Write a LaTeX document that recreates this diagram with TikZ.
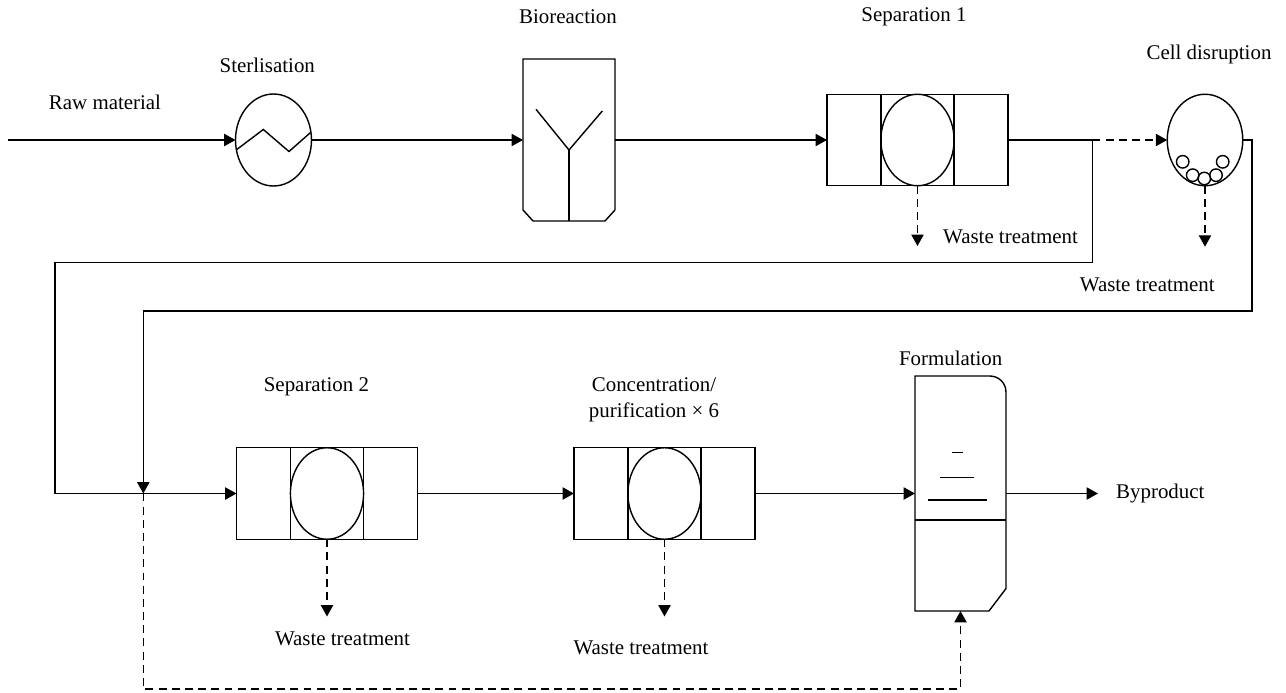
\documentclass[tikz,border=0pt]{standalone}
\usepackage{fontspec}
\setmainfont{Liberation Serif}
\usetikzlibrary{
  arrows.meta,
  calc,
  shapes.geometric,
}
\tikzstyle{line} = [line width=0.8pt]
\tikzstyle{flow} = [
  -{Triangle[length=6.5pt,width=7pt]},
  line width=0.8pt,
]
\tikzstyle{waste} = [
  flow,
  dash pattern=on 4.5pt off 3pt,
]
\tikzstyle{lbl} = [font=\fontsize{11.9}{14.5}\selectfont]
\tikzstyle{separator} = [draw,rectangle,line width=0.8pt,minimum width=3.62cm,minimum height=1.83cm,inner sep=0,outer sep=0]
\tikzstyle{vessel} = [draw,ellipse,line width=0.8pt,minimum width=1.52cm,minimum height=1.84cm,inner sep=0,outer sep=0]
\tikzstyle{tank} = [rectangle,inner sep=0,outer sep=0]

\begin{document}
\begin{tikzpicture}[x=0.02cm,y=0.02cm]
        \useasboundingbox (0,0) rectangle (1286,-693);

        % units
        \node[vessel] (steril) at (273.5,-140) {};
        \node[tank,minimum width=1.84cm,minimum height=3.24cm] (bio) at (569,-140) {};
        \node[separator] (sepA) at (917.5,-140) {};
        \node[vessel,minimum width=1.51cm,minimum height=1.83cm] (cell) at (1205,-140) {};
        \node[separator] (sepB) at (327,-493.5) {};
        \node[separator] (conc) at (664.5,-493.5) {};
        \node[tank,minimum width=1.82cm,minimum height=4.7cm] (form) at (960.5,-493.5) {};

        % insides
        \draw[line] ($(steril)+(-37.1,-9.8)$) -- ($(steril)+(-10.2,10.5)$) -- ($(steril)+(15.5,-11.5)$) -- ($(steril)+(37.4,7.8)$);

        \draw[line] (bio.north west) -- (bio.north east) -- ($(bio.south east)+(0,11)$) -- ($(bio.south east)+(-10,0)$) -- ($(bio.south west)+(10,0)$) -- ($(bio.south west)+(0,11)$) -- cycle;
        \draw[line] ($(bio)+(-33,30.7)$) -- ($(bio)+(0,-10)$) -- ($(bio)+(33.3,29)$);
        \draw[line] ($(bio)+(0,-10)$) -- (bio.south);

        \foreach \s in {sepA,sepB,conc} {
          \draw[line] ($(\s.north)+(-36.6,0)$) -- ($(\s.south)+(-36.6,0)$);
          \draw[line] ($(\s.north)+(36.6,0)$) -- ($(\s.south)+(36.6,0)$);
          \draw[line] (\s.center) ellipse [x radius=0.732cm, y radius=0.915cm];
        }

        \foreach \dx/\dy in {-22.3/-21.8, -12.3/-35.2, -0.7/-38.5, 11/-35.2, 17.7/-21.8}
          \draw[line] ($(cell.center)+(\dx,\dy)$) circle [radius=0.125cm];

        \draw[line] (form.south west) -- (form.north west) -- ($(form.north east)+(-16,0)$) arc[start angle=90,end angle=0,radius=0.32cm] -- ($(form.south east)+(0,22.4)$) -- ($(form.south east)+(-17,0)$) -- cycle;
        \draw[line] ($(form.west)+(0,-26.5)$) -- ($(form.east)+(0,-26.5)$);
        \draw[line] ($(form)+(-8.8,40.8)$) -- ($(form)+(2.8,40.8)$);
        \draw[line] ($(form)+(-20.5,16.2)$) -- ($(form)+(13.8,16.2)$);
        \draw[line] ($(form)+(-32.8,-6.5)$) -- ($(form)+(26.2,-6.5)$);

        % labels
        \node[lbl] (rawlbl) at (105,-102.7) {Raw material};
        \node[lbl] (sterillbl) at (267.3,-65) {Sterlisation};
        \node[lbl] (biolbl) at (568,-16.7) {Bioreaction};
        \node[lbl] (sepAlbl) at (914,-17.3) {Separation 1};
        \node[lbl] (celllbl) at (1209,-54) {Cell disruption};
        \node[lbl] (sepBlbl) at (316.4,-387.3) {Separation 2};
        \node[lbl,align=center] (conclbl) at (654,-400) {Concentration/\\purification × 6};
        \node[lbl] (formlbl) at (950.7,-358.3) {Formulation};
        \node[lbl,anchor=west] (byprodlbl) at (1110,-493.5) {Byproduct};
        \node[lbl,anchor=west] (wasteA) at (937,-236.7) {Waste treatment};
        \node[lbl] (wasteC) at (1147.3,-285) {Waste treatment};
        \node[lbl] (wasteB) at (342.5,-639.3) {Waste treatment};
        \node[lbl] (wasteD) at (641,-648.3) {Waste treatment};

        % free ends
        \coordinate (raw) at (8,-140);
        \coordinate (split) at (1092.5,-140);
        \coordinate (join) at (143.3,-493.5);
        \coordinate (byprod) at (1098,-493.5);
        \coordinate (sepAout) at (917.5,-246);
        \coordinate (cellout) at (1205,-246.7);
        \coordinate (sepBout) at (327,-616.5);
        \coordinate (concout) at (664.5,-616.5);

        % connectors
        \draw[flow] (raw) -- (steril.west);
        \draw[flow] (steril.east) -- (bio.west);
        \draw[flow] (bio.east) -- (sepA.west);
        \draw[line] (sepA.east) -- (split);
        \draw[waste] (split) -- (cell.west);
        \draw[flow] (split) |- (55,-262.5) |- (sepB.west);
        \draw[flow] (cell.east) -| (1252,-311) -| (join);
        \draw[flow] (sepB.east) -- (conc.west);
        \draw[flow] (conc.east) -- (form.west);
        \draw[flow] (form.east) -- (byprod);
        \draw[waste] (join) -- (143.3,-689) -| (form.south);

        \draw[waste] (sepA.south) -- (sepAout);
        \draw[waste] (cell.south) -- (cellout);
        \draw[waste] (sepB.south) -- (sepBout);
        \draw[waste] (conc.south) -- (concout);

\end{tikzpicture}
\end{document}
